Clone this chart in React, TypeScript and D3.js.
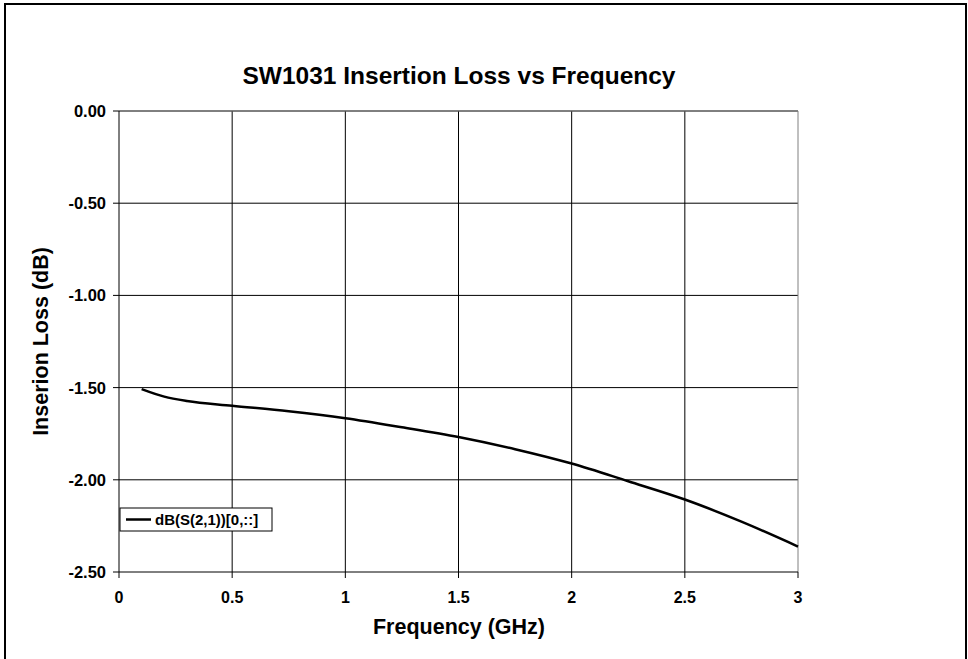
import * as d3 from "d3";

const freqGHz = [0.1, 0.2, 0.3, 0.5, 0.75, 1.0, 1.25, 1.5, 1.75, 2.0, 2.25, 2.5, 2.75, 3.0];
const lossDb = [-1.508, -1.549, -1.573, -1.598, -1.628, -1.666, -1.715, -1.768, -1.834, -1.912, -2.008, -2.107, -2.227, -2.362];
const xTicks = [0, 0.5, 1, 1.5, 2, 2.5, 3];
const yTicks = [0, -0.5, -1, -1.5, -2, -2.5];
const seriesName = "dB(S(2,1))[0,::]";

const W = 968;
const H = 659;
const font = "'Liberation Sans', Arial, Helvetica, sans-serif";

const App = () => {
  const m = { left: 119, right: 798, top: 111, bottom: 572 };
  const x = d3.scaleLinear().domain([0, 3]).range([m.left, m.right]);
  const y = d3.scaleLinear().domain([-2.5, 0]).range([m.bottom, m.top]);

  const line = d3
    .line<number>()
    .x((_, i) => x(freqGHz[i]))
    .y((d) => y(d))
    .curve(d3.curveMonotoneX);

  return (
    <svg
      width={W}
      height={H}
      style={{ position: "absolute", left: 0, top: 0, background: "#fff" }}
      fontFamily={font}
    >
      {/* outer frame */}
      <rect x={5} y={4} width={961} height={680} fill="none" stroke="#000" strokeWidth={2} />

      <text x={459} y={84} textAnchor="middle" fontSize={24.5} fontWeight="bold">
        SW1031 Insertion Loss vs Frequency
      </text>

      {/* gridlines */}
      {xTicks.slice(1, -1).map((t) => (
        <line key={"gx" + t} x1={x(t)} x2={x(t)} y1={m.top} y2={m.bottom} stroke="#000" strokeWidth={1} />
      ))}
      {yTicks.slice(0, -1).map((t) => (
        <line key={"gy" + t} x1={m.left} x2={m.right} y1={y(t)} y2={y(t)} stroke="#000" strokeWidth={1} />
      ))}

      {/* plot border */}
      <line x1={m.left} x2={m.right} y1={m.top} y2={m.top} stroke="#808080" />
      <line x1={m.right} x2={m.right} y1={m.top} y2={m.bottom} stroke="#808080" />

      {/* axes */}
      <line x1={m.left} x2={m.left} y1={m.top} y2={m.bottom} stroke="#000" />
      <line x1={m.left} x2={m.right} y1={m.bottom} y2={m.bottom} stroke="#000" />

      {yTicks.map((t) => (
        <g key={"ty" + t}>
          <line x1={m.left - 6} x2={m.left} y1={y(t)} y2={y(t)} stroke="#000" />
          <text x={106} y={y(t)} dy="0.36em" textAnchor="end" fontSize={16.5} fontWeight="bold">
            {t.toFixed(2)}
          </text>
        </g>
      ))}
      {xTicks.map((t) => (
        <g key={"tx" + t}>
          <line x1={x(t)} x2={x(t)} y1={m.bottom} y2={m.bottom + 6} stroke="#000" />
          <text x={x(t)} y={603} textAnchor="middle" fontSize={16} fontWeight="bold">
            {String(t)}
          </text>
        </g>
      ))}

      <text x={459} y={634} textAnchor="middle" fontSize={21.5} fontWeight="bold">
        Frequency (GHz)
      </text>
      <text
        transform={`translate(48,${(m.top + m.bottom) / 2}) rotate(-90)`}
        textAnchor="middle"
        fontSize={21.5}
        fontWeight="bold"
      >
        Inserion Loss (dB)
      </text>

      {/* series */}
      <path d={line(lossDb) ?? ""} fill="none" stroke="#000" strokeWidth={2.5} />

      {/* legend */}
      <rect x={120} y={508} width={152} height={23} fill="#fff" stroke="#000" strokeWidth={1} />
      <line x1={126} x2={151} y1={519.5} y2={519.5} stroke="#000" strokeWidth={2.5} />
      <text x={155} y={519.5} dy="0.36em" fontSize={15} fontWeight="bold">
        {seriesName}
      </text>
    </svg>
  );
};

export default App;
